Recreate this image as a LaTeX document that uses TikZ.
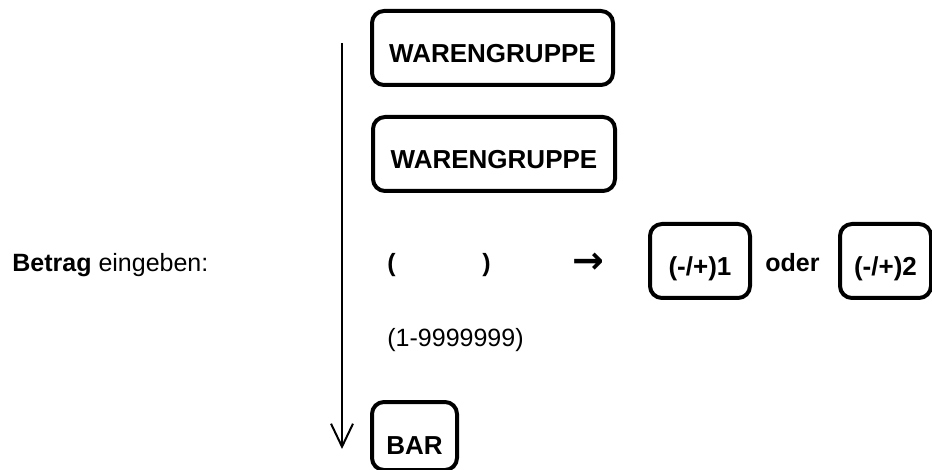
\documentclass[tikz,border=0pt]{standalone}
\usepackage{fontspec}
\setmainfont{Liberation Sans}
\newfontfamily\pfeilfont{DejaVu Sans}
\usetikzlibrary{arrows.meta}

\begin{document}
\fontsize{12.5pt}{15pt}\selectfont
\begin{tikzpicture}[x=0.5pt, y=-0.5pt,
  taste/.style={rectangle, rounded corners=6pt, draw, line width=2pt,
    font=\bfseries\fontsize{13pt}{15pt}\selectfont,
    inner xsep=0pt, inner ysep=0pt, text height=26pt, text depth=11pt},
  txt/.style={anchor=base west, inner sep=0pt},
  ]
 \useasboundingbox (0,0) rectangle (932,470);
 % Tasten
 \node [taste, minimum width=120.5pt] (wg1) at (492.5,9) [anchor=north] {WARENGRUPPE};
 \node [taste, minimum width=121pt] (wg2) at (494,115) [anchor=north] {WARENGRUPPE};
 \node [taste, minimum width=50pt] (pm1) at (700,222) [anchor=north] {(-/+)1};
 \node [taste, minimum width=45.5pt] (pm2) at (885.5,222) [anchor=north] {(-/+)2};
 \node [taste, minimum width=42.5pt, text depth=8pt] (bar) at (414.5,400) [anchor=north] {BAR};
 % Texte
 \node [txt] (betrag) at (12,272) {\textbf{Betrag} eingeben:};
 \node [txt, font=\bfseries] (kl1) at (387,272) {(};
 \node [txt, font=\bfseries] (kl2) at (482,272) {)};
 \node [anchor=center, inner sep=0pt, font=\pfeilfont\bfseries\fontsize{19pt}{19pt}\selectfont] (pfeil) at (588.5,263) {→};
 \node [txt, font=\bfseries] (oder) at (765,272) {oder};
 \node [txt] (bereich) at (387,347) {(1-9999999)};
 % Ablauf
 \coordinate (start) at (342,43);
 \coordinate (ende) at (342,449);
 \draw [line width=1pt, -{Straight Barb[length=11.5pt, width=11pt, line width=1pt]}] (start) -- (ende);
\end{tikzpicture}
\end{document}
